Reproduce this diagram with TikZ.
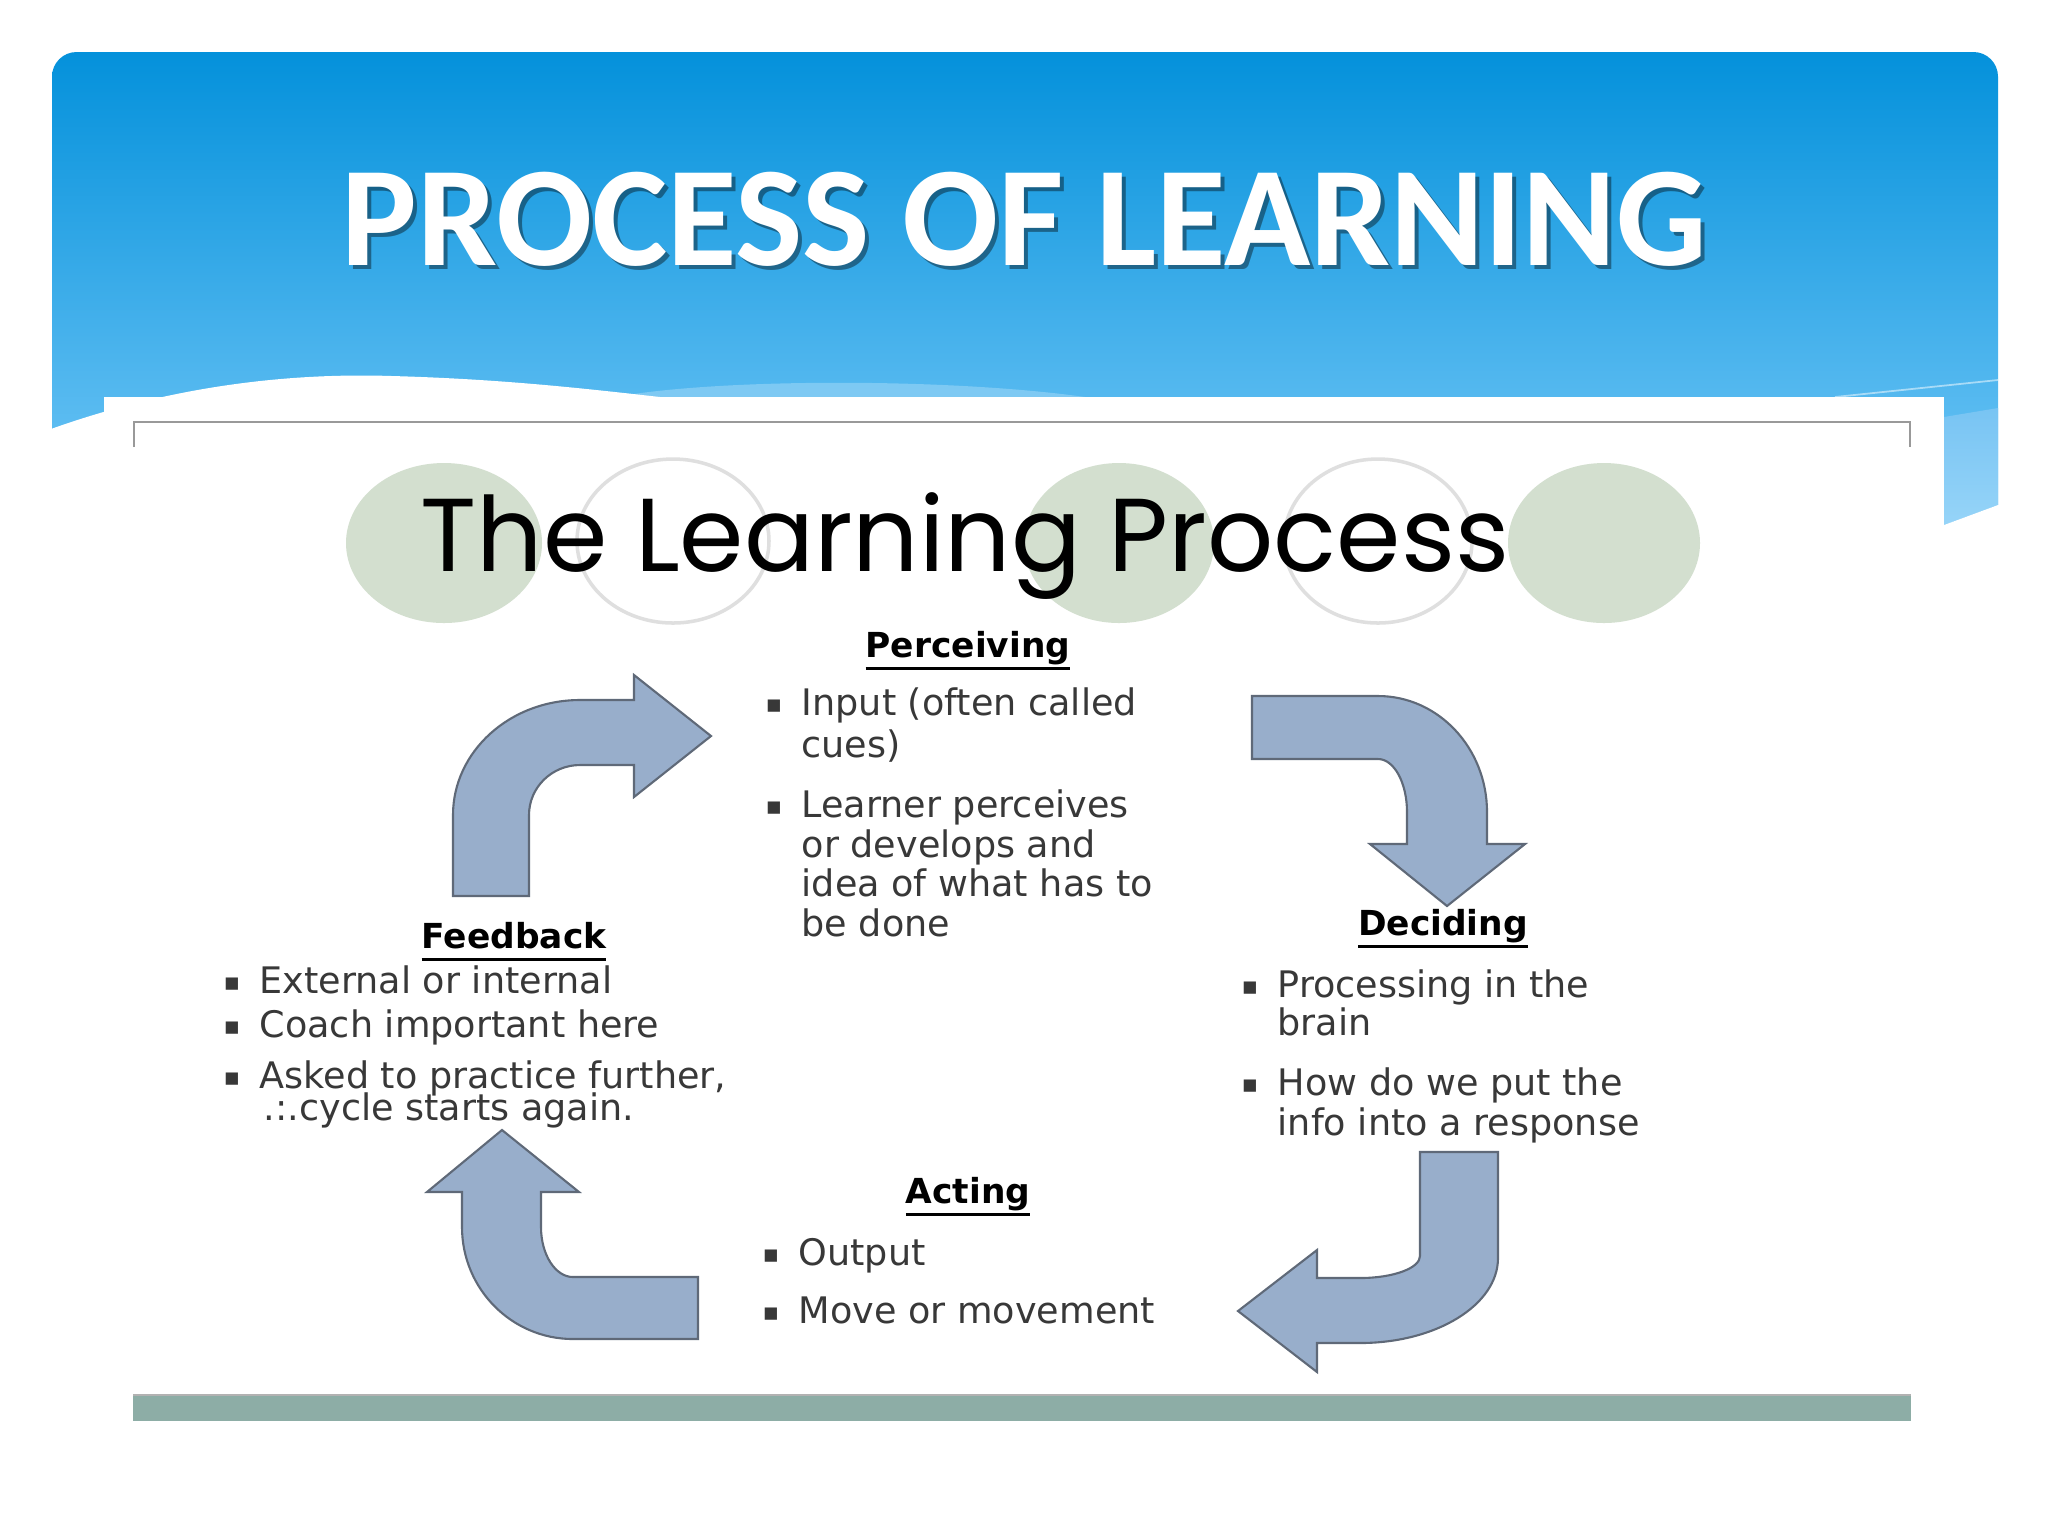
\documentclass[tikz,border=0pt]{standalone}
\usepackage{fontspec}
\setmainfont{DejaVu Sans}
\newfontfamily\titlefont{Carlito}
\newfontfamily\handfont{Poppins}
\definecolor{bannertop}{RGB}{4,145,219}
\definecolor{bannerbot}{RGB}{118,201,248}
\definecolor{arrowfill}{RGB}{152,174,203}
\definecolor{arrowline}{RGB}{95,105,120}
\definecolor{sage}{RGB}{211,223,207}
\definecolor{barfill}{RGB}{141,173,166}
\newcommand\bul{\makebox[0pt][r]{\raisebox{0.6pt}{\fontsize{7}{7}\selectfont ▪}\hspace{5.5pt}}}
\newsavebox\hdbox
\newcommand\uhead[1]{\sbox\hdbox{#1}\rlap{\usebox\hdbox}\rule[-3.8pt]{\wd\hdbox}{1.1pt}}

\begin{document}
\begin{tikzpicture}[x=0.1mm,y=-0.1mm,
    bentarrow/.style={fill=arrowfill,draw=arrowline,line width=0.6pt,line join=miter},
    body/.style={anchor=base west,inner sep=0pt,text=black!78,font=\fontsize{10.4}{12}\selectfont},
    head/.style={anchor=base,inner sep=0pt,font=\fontsize{9.8}{12}\selectfont\bfseries}]
              \useasboundingbox (0,0) rectangle (2048,1536);
              \fill[white] (0,0) rectangle (2048,1536);
              % banner
              \shade[top color=bannertop,bottom color=bannerbot,rounded corners=7pt] (52,540) -- (52,52) -- (1998,52) -- (1998,540) -- cycle;
              \shade[top color={rgb,255:red,120;green,196;blue,243},bottom color={rgb,255:red,150;green,212;blue,248}] (1944,417) -- (1998,408) -- (1998,505) -- (1944,525) -- cycle;
              \draw[white,opacity=.5,line width=0.5pt] (1835,397) -- (1998,380);
              \fill[white,opacity=.25] (615,397) .. controls (720,378) and (950,378) .. (1085,397) -- cycle;
              \fill[white] (40,433) .. controls (150,392) and (270,372) .. (392,376) .. controls (500,379) and (580,388) .. (660,397) -- (660,560) -- (40,560) -- cycle;
              \fill[white] (1944,525) -- (1998,505) -- (2010,505) -- (2010,560) -- (1944,560) -- cycle;
              \node[text=black,opacity=.4,font=\titlefont\bfseries\fontsize{40.5}{44}\selectfont,anchor=base](shadow)at(1028,269){PROCESS OF LEARNING};
              \node[text=white,font=\titlefont\bfseries\fontsize{40.5}{44}\selectfont,anchor=base](title)at(1024,265){PROCESS OF LEARNING};
              % picture
              \fill[white] (104,397) rectangle (1944,1536);
              \draw[line width=0.8pt,color=gray!80] (134,447) -- (134,422) -- (1910,422) -- (1910,447);
              \fill[barfill] (133,1394) rectangle (1911,1421);
              \draw[gray!60,line width=0.5pt] (133,1395) -- (1911,1395);
              \fill[sage] (444,543) ellipse [x radius=98,y radius=80];
              \draw[gray!25,line width=1pt] (673,541) ellipse [x radius=96,y radius=82];
              \fill[sage] (1119,543) ellipse [x radius=95,y radius=80];
              \draw[gray!25,line width=1pt] (1378,541) ellipse [x radius=94,y radius=82];
              \fill[sage] (1604,543) ellipse [x radius=96,y radius=80];
              \node[font=\handfont\fontsize{29.5}{30}\selectfont,anchor=base](lp)at(965,571){The Learning Process};
              % arrows
              \draw[bentarrow] (453,896) -- (453,815) arc[start angle=180,end angle=270,x radius=127,y radius=115] -- (634,700) -- (634,675) -- (711,736) -- (634,797) -- (634,765) -- (580,765) arc[start angle=270,end angle=180,x radius=51,y radius=50] -- (529,896) -- cycle;
              \draw[bentarrow] (1252,696) -- (1378,696) arc[start angle=-90,end angle=0,x radius=109,y radius=116] -- (1487,844) -- (1525,844) -- (1447,906) -- (1370,844) -- (1407,844) -- (1407,812) arc[start angle=0,end angle=-90,x radius=29,y radius=53] -- (1252,759) -- cycle;
              \draw[bentarrow] (1420,1152) -- (1498,1152) -- (1498,1258) arc[start angle=0,end angle=90,x radius=138,y radius=85] -- (1317,1343) -- (1317,1372) -- (1238,1311) -- (1317,1250) -- (1317,1278) -- (1360,1278) arc[start angle=90,end angle=0,x radius=60,y radius=22] -- cycle;
              \draw[bentarrow] (698,1277) -- (573,1277) arc[start angle=90,end angle=180,x radius=32,y radius=50] -- (541,1192) -- (579,1192) -- (502,1130) -- (427,1192) -- (462,1192) -- (462,1227) arc[start angle=180,end angle=90,x radius=111,y radius=112] -- (698,1339) -- cycle;
              % perceiving
              \node[head](perc)at(968,657){\uhead{Perceiving}};
              \node[body](perc1)at(801,715){\bul Input (often called};
              \node[body](perc1b)at(801,757){cues)};
              \node[body](perc2)at(801,817){\bul Learner perceives};
              \node[body](perc2b)at(801,857){or develops and};
              \node[body](perc2c)at(801,896){idea of what has to};
              \node[body](perc2d)at(801,936){be done};
              % deciding
              \node[head](dec)at(1443,935){\uhead{Deciding}};
              \node[body](dec1)at(1277,997){\bul Processing in the};
              \node[body](dec1b)at(1277,1035){brain};
              \node[body](dec2)at(1277,1095){\bul How do we put the};
              \node[body](dec2b)at(1277,1135){info into a response};
              % acting
              \node[head](act)at(968,1203){\uhead{Acting}};
              \node[body](act1)at(798,1265){\bul Output};
              \node[body](act2)at(798,1323){\bul Move or movement};
              % feedback
              \node[head](feed)at(514,948){\uhead{Feedback}};
              \node[body](feed1)at(259,993){\bul External or internal};
              \node[body](feed2)at(259,1037){\bul Coach important here};
              \node[body](feed3)at(259,1088){\bul Asked to practice further,};
              \node[body](feed3b)at(263,1120){.:.cycle starts again.};
            \end{tikzpicture}
\end{document}
